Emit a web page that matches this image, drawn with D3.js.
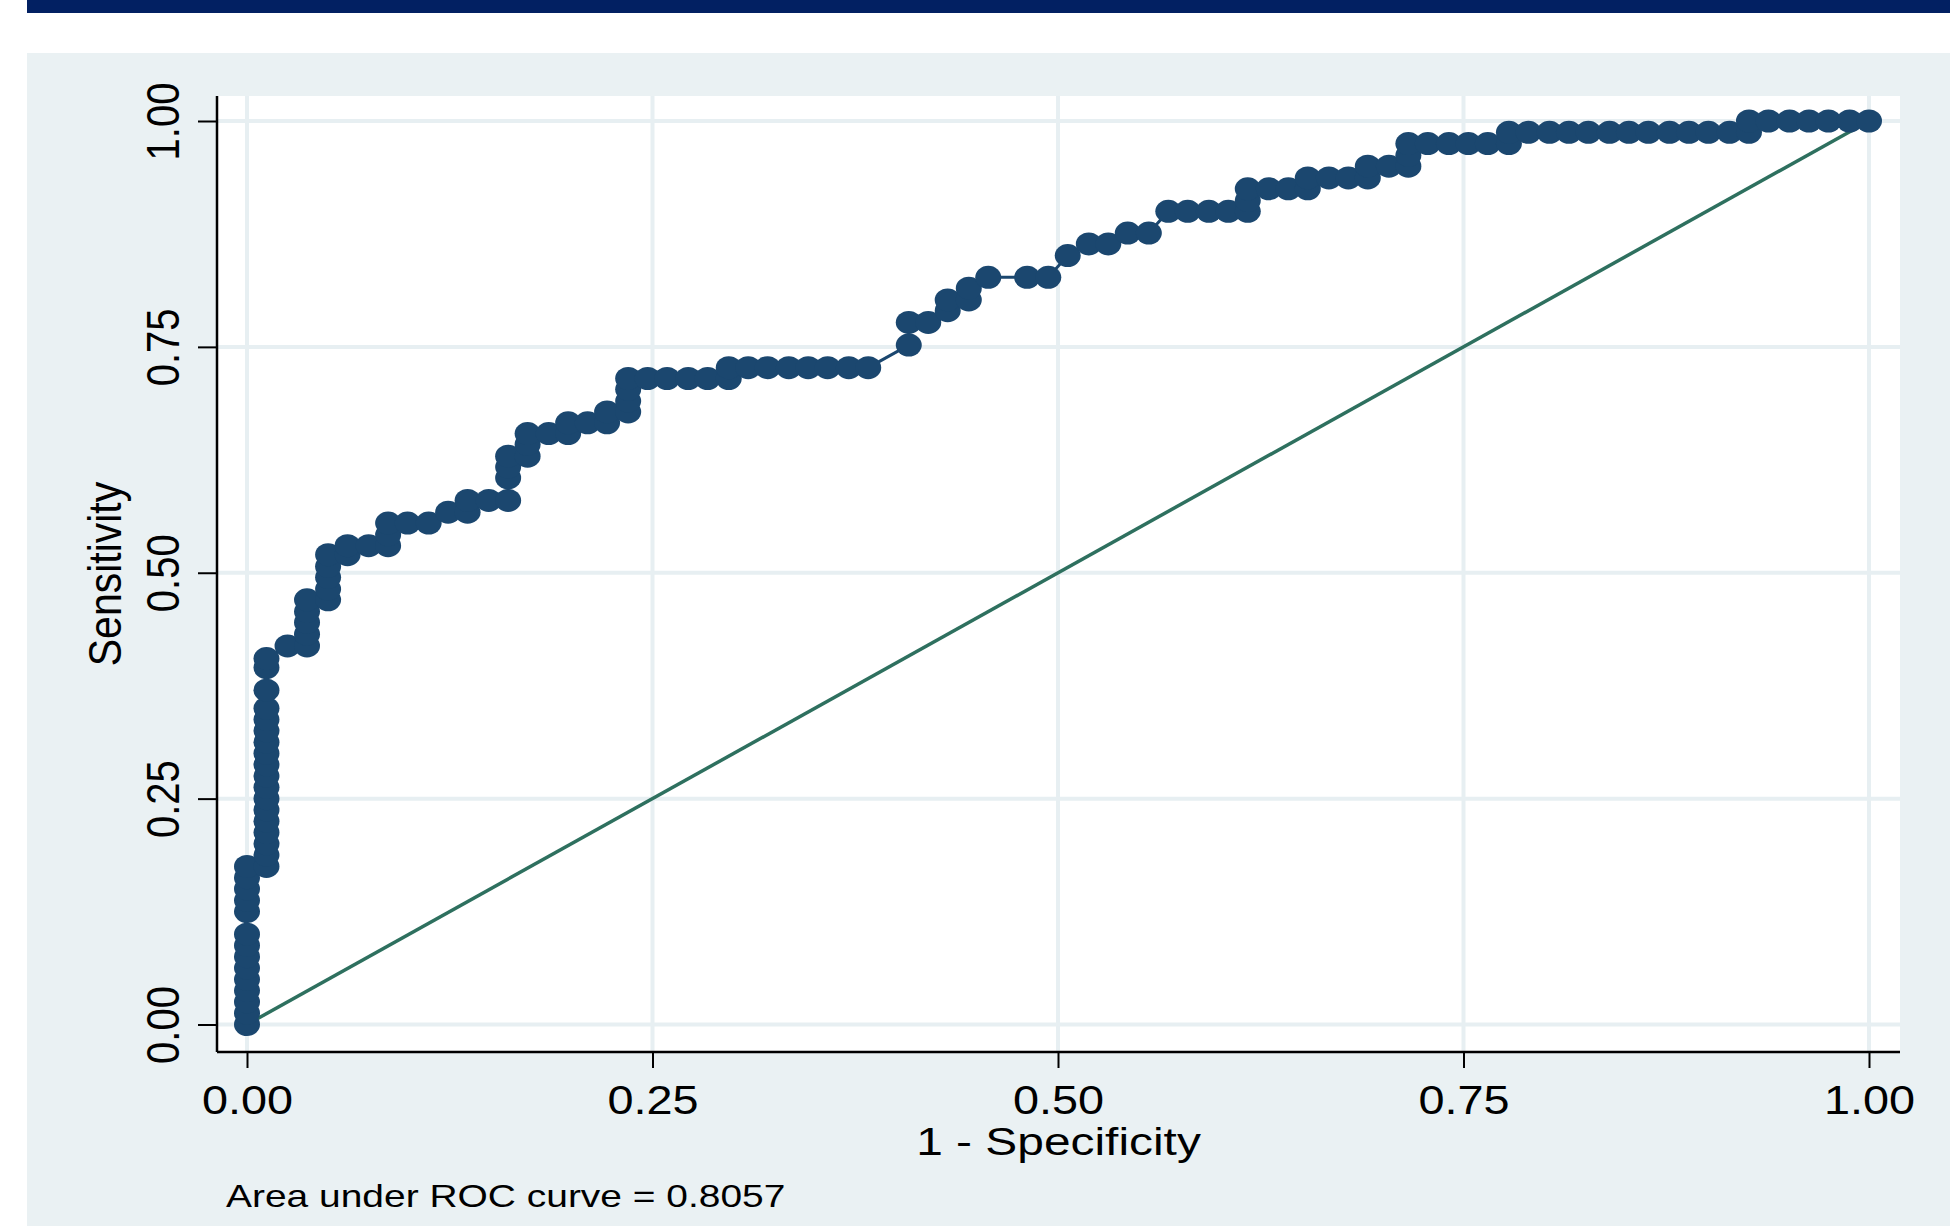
<!DOCTYPE html>
<html>
<head>
<meta charset="utf-8">
<script src="https://cdn.jsdelivr.net/npm/d3@7"></script>
<style>
  body { margin: 0; background: #ffffff; }
  svg text { font-family: "Liberation Sans", Arial, Helvetica, sans-serif; fill: #000; }
</style>
</head>
<body>
<svg id="chart" width="1959" height="1226"></svg>
<script>
// ROC points: [1 - specificity, sensitivity]
var rocPoints = [
  [0,0],[0,.0125],[0,.025],[0,.0375],[0,.05],[0,.0625],[0,.075],[0,.0875],[0,.1],
  [0,.125],[0,.1375],[0,.15],[0,.1625],[0,.175],
  [.012,.175],[.012,.1875],[.012,.2],[.012,.2125],[.012,.225],[.012,.2375],[.012,.25],[.012,.2625],
  [.012,.275],[.012,.2875],[.012,.3],[.012,.3125],[.012,.325],[.012,.3375],[.012,.35],[.012,.37],
  [.012,.395],[.012,.405],
  [.025,.419],
  [.037,.419],[.037,.432],[.037,.445],[.037,.457],[.037,.47],
  [.05,.47],[.05,.482],[.05,.495],[.05,.507],[.05,.52],
  [.062,.52],[.062,.53],
  [.075,.53],
  [.087,.53],[.087,.542],[.087,.555],
  [.099,.555],[.112,.555],[.124,.567],
  [.136,.567],[.136,.58],
  [.149,.58],
  [.161,.58],[.161,.605],[.161,.617],[.161,.629],
  [.173,.629],[.173,.642],[.173,.654],
  [.186,.654],
  [.198,.654],[.198,.666],
  [.21,.666],
  [.222,.666],[.222,.678],
  [.235,.678],[.235,.69],[.235,.703],[.235,.715],
  [.247,.715],[.259,.715],[.272,.715],[.284,.715],
  [.297,.715],[.297,.727],
  [.309,.727],[.321,.727],[.334,.727],[.346,.727],[.358,.727],[.371,.727],[.383,.727],
  [.408,.752],[.408,.777],
  [.42,.777],
  [.432,.79],[.432,.802],
  [.445,.802],[.445,.815],
  [.457,.827],[.481,.827],[.494,.827],
  [.506,.851],[.519,.864],[.531,.864],[.543,.876],[.556,.876],
  [.568,.9],[.58,.9],[.593,.9],[.605,.9],
  [.617,.9],[.617,.912],[.617,.925],
  [.63,.925],[.642,.925],
  [.654,.925],[.654,.937],
  [.667,.937],[.679,.937],
  [.691,.937],[.691,.95],
  [.704,.95],
  [.716,.95],[.716,.962],[.716,.975],
  [.728,.975],[.741,.975],[.753,.975],[.765,.975],
  [.778,.975],[.778,.9875],
  [.79,.9875],[.803,.9875],[.815,.9875],[.827,.9875],[.84,.9875],[.852,.9875],
  [.864,.9875],[.877,.9875],[.889,.9875],[.901,.9875],[.914,.9875],
  [.926,.9875],[.926,1],
  [.938,1],[.951,1],[.963,1],[.975,1],[.988,1],[1,1]
];

// reference (chance) line
var refLine = [[0,0],[1,1]];

var xTicks = [0, 0.25, 0.5, 0.75, 1];
var yTicks = [0, 0.25, 0.5, 0.75, 1];
var xTitle = "1 - Specificity";
var yTitle = "Sensitivity";
var noteText = "Area under ROC curve = 0.8057";

var svg = d3.select("#chart");

// the source picture is a bit stretched sideways, so text gets the same stretch
var stretch = 1.17;

var plot = {left: 217, right: 1900, top: 96, bottom: 1052};

var x = d3.scaleLinear().domain([0, 1]).range([247, 1869]);
var y = d3.scaleLinear().domain([0, 1]).range([1024.5, 121]);

/// top band and panels
svg.append("rect").attr("x", 27).attr("y", 0).attr("width", 1923).attr("height", 13).attr("fill", "#022062");
svg.append("rect").attr("x", 27).attr("y", 53).attr("width", 1923).attr("height", 1173).attr("fill", "#eaf1f3");
svg.append("rect").attr("x", plot.left).attr("y", plot.top)
  .attr("width", plot.right - plot.left).attr("height", plot.bottom - plot.top).attr("fill", "#ffffff");

/// grid
var grid = svg.append("g").attr("stroke", "#e7eff2").attr("stroke-width", 4);
grid.selectAll(".gx").data(xTicks).enter().append("line")
  .attr("x1", function(d){ return x(d); }).attr("x2", function(d){ return x(d); })
  .attr("y1", plot.top).attr("y2", plot.bottom);
grid.selectAll(".gy").data(yTicks).enter().append("line")
  .attr("y1", function(d){ return y(d); }).attr("y2", function(d){ return y(d); })
  .attr("x1", plot.left).attr("x2", plot.right);

/// axes
var xAxis = d3.axisBottom(x).tickValues(xTicks).tickFormat(d3.format(".2f"))
  .tickSizeInner(16).tickSizeOuter(0).tickPadding(18);
var yAxis = d3.axisLeft(y).tickValues(yTicks).tickFormat(d3.format(".2f"))
  .tickSizeInner(19).tickSizeOuter(0);

var gx = svg.append("g").attr("transform", "translate(0," + plot.bottom + ")").call(xAxis);
gx.select(".domain").remove();
gx.selectAll(".tick line").attr("stroke", "#000").attr("stroke-width", 2);
gx.selectAll(".tick text")
  .attr("font-size", 40).attr("fill", "#000")
  .attr("transform", "scale(" + stretch + ",1)");

var gy = svg.append("g").attr("transform", "translate(" + plot.left + ",0)").call(yAxis);
gy.select(".domain").remove();
gy.selectAll(".tick line").attr("stroke", "#000").attr("stroke-width", 2);
gy.selectAll(".tick text")
  .attr("x", 0).attr("y", 0).attr("dy", 0)
  .attr("text-anchor", "middle")
  .attr("font-size", 40).attr("fill", "#000")
  .attr("transform", "translate(-38,0) rotate(-90) scale(1," + stretch + ")");

svg.append("line").attr("x1", plot.left).attr("x2", plot.right)
  .attr("y1", plot.bottom).attr("y2", plot.bottom).attr("stroke", "#000").attr("stroke-width", 2.5);
svg.append("line").attr("x1", plot.left).attr("x2", plot.left)
  .attr("y1", plot.top).attr("y2", plot.bottom).attr("stroke", "#000").attr("stroke-width", 2.5);

/// reference line
var line = d3.line()
  .x(function(d){ return x(d[0]); })
  .y(function(d){ return y(d[1]); });

svg.append("path").datum(refLine)
  .attr("d", line).attr("fill", "none")
  .attr("stroke", "#2e705f").attr("stroke-width", 3.5);

/// ROC curve + markers
svg.append("path").datum(rocPoints)
  .attr("d", line).attr("fill", "none")
  .attr("stroke", "#1b476f").attr("stroke-width", 3);

svg.append("g").selectAll("ellipse").data(rocPoints).enter().append("ellipse")
  .attr("cx", function(d){ return x(d[0]); })
  .attr("cy", function(d){ return y(d[1]); })
  .attr("rx", 13).attr("ry", 11.5)
  .attr("fill", "#1b476f");

/// titles
svg.append("g").attr("transform", "translate(" + (plot.left + plot.right) / 2 + ",1155)")
  .append("text").attr("text-anchor", "middle").attr("font-size", 38)
  .attr("transform", "scale(1.26,1)").text(xTitle);

svg.append("g").attr("transform", "translate(121," + (plot.top + plot.bottom) / 2 + ") rotate(-90)")
  .append("text").attr("text-anchor", "middle").attr("font-size", 41)
  .attr("transform", "scale(1,1.12)").text(yTitle);

svg.append("g").attr("transform", "translate(226,1207)")
  .append("text").attr("font-size", 31)
  .attr("transform", "scale(1.256,1)").text(noteText);
</script>
</body>
</html>
